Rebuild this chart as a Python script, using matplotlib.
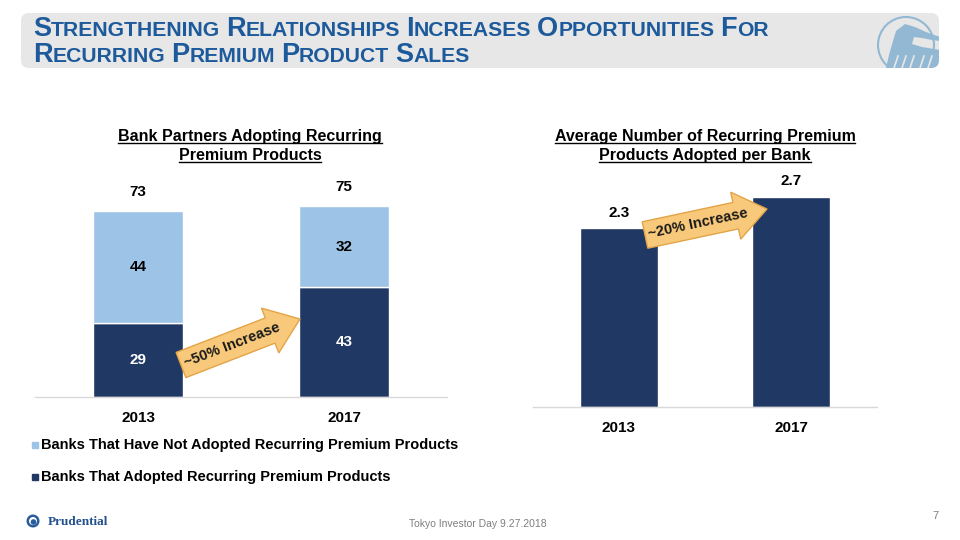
import numpy as np
import matplotlib
matplotlib.use("Agg")
import matplotlib.pyplot as plt
from matplotlib.patches import FancyBboxPatch, FancyArrow, Circle, Polygon, Rectangle

plt.rcParams['font.family'] = ['Liberation Sans', 'DejaVu Sans']

# data
years = ['2013', '2017']
adopted = [29, 43]
not_adopted = [44, 32]
totals = [73, 75]
avg_products = [2.3, 2.7]

left_title = "Bank Partners Adopting Recurring\nPremium Products"
right_title = "Average Number of Recurring Premium\nProducts Adopted per Bank"
legend_labels = ['Banks That Have Not Adopted Recurring Premium Products',
                 'Banks That Adopted Recurring Premium Products']
title_lines = ["Strengthening Relationships Increases Opportunities For",
               "Recurring Premium Product Sales"]

NAVY = '#203864'
LIGHT = '#9DC3E6'
TITLE_BLUE = '#1D5A9B'
GRID = '#D9D9D9'
LOGO = '#92B8D3'

fig = plt.figure(figsize=(9.6, 5.4), dpi=100)

# overlay in pixel coords (y down)
ov = fig.add_axes([0, 0, 1, 1], zorder=10)
ov.set_xlim(0, 960)
ov.set_ylim(540, 0)
ov.set_axis_off()

# left stacked chart
ax1 = fig.add_axes([35 / 960, 1 - 397 / 540, 412 / 960, 227 / 540])
x = np.arange(len(years))
ax1.bar(x, adopted, width=0.437, color=NAVY, edgecolor='white', linewidth=1)
ax1.bar(x, not_adopted, bottom=adopted, width=0.437, color=LIGHT,
        edgecolor='white', linewidth=1)
for i in x:
    ax1.text(i, adopted[i] / 2, str(adopted[i]), ha='center', va='center',
             color='white', fontsize=11, fontweight='bold')
    ax1.text(i, adopted[i] + not_adopted[i] / 2, str(not_adopted[i]),
             ha='center', va='center', color='black', fontsize=11,
             fontweight='bold')
    ax1.text(i, totals[i] + 4.5, str(totals[i]), ha='center', va='bottom',
             color='black', fontsize=11, fontweight='bold')
ax1.set_xlim(-0.5, 1.5)
ax1.set_ylim(0, 89)

# right chart
ax2 = fig.add_axes([533 / 960, 1 - 407 / 540, 344 / 960, 247 / 540])
ax2.bar(x, avg_products, width=0.448, color=NAVY, edgecolor='white', linewidth=1)
for i in x:
    ax2.text(i, avg_products[i] + 0.11, f"{avg_products[i]:.1f}", ha='center',
             va='bottom', color='black', fontsize=11, fontweight='bold')
ax2.set_xlim(-0.5, 1.5)
ax2.set_ylim(0, 3.175)

for ax in (ax1, ax2):
    ax.set_xticks(x)
    ax.set_xticklabels(years, fontsize=11, fontweight='bold')
    ax.tick_params(axis='x', length=0, pad=10)
    ax.set_yticks([])
    for s in ['top', 'right', 'left']:
        ax.spines[s].set_visible(False)
    ax.spines['bottom'].set_color(GRID)
    ax.spines['bottom'].set_linewidth(1)
    ax.patch.set_alpha(0)

fig.canvas.draw()
renderer = fig.canvas.get_renderer()


def px_width(t):
    return t.get_window_extent(renderer).width


def underlined(xc, y, s):
    t = ov.text(xc, y, s, ha='center', va='baseline', fontsize=11.5,
                fontweight='bold', color='black')
    w = px_width(t)
    ov.plot([xc - w / 2, xc + w / 2], [y + 2, y + 2], color='black', lw=1)


for cx, title in [(250, left_title), (705, right_title)]:
    for k, line in enumerate(title.split('\n')):
        underlined(cx, 141 + 19 * k, line)

# legend
for k, (lab, col) in enumerate(zip(legend_labels, [LIGHT, NAVY])):
    yy = 445 + 32 * k
    ov.add_patch(Rectangle((32, yy - 3), 6, 6, color=col))
    ov.text(41, yy, lab, ha='left', va='center', fontsize=10.5,
            fontweight='bold', color='black')

# arrows
ARROW_FACE = '#F8C97A'
ARROW_EDGE = '#E3A447'
for (x0, y0, x1, y1, txt, rot) in [(181, 365, 300, 319, '~50% Increase', 21),
                                   (645, 235, 767, 209, '~20% Increase', 12)]:
    ov.add_patch(FancyArrow(x0, y0, x1 - x0, y1 - y0, width=27,
                            head_width=48, head_length=32,
                            length_includes_head=True, facecolor=ARROW_FACE,
                            edgecolor=ARROW_EDGE, lw=1))
    mx = x0 + (x1 - x0) * 0.43
    my = y0 + (y1 - y0) * 0.43
    ov.text(mx, my, txt, ha='center', va='center', rotation=rot,
            rotation_mode='anchor', fontsize=10.5, fontweight='bold',
            color='#1a1a1a')

# title banner
ov.add_patch(FancyBboxPatch((23, 15), 914, 51,
                            boxstyle='round,pad=2,rounding_size=8',
                            facecolor='#E7E7E7', edgecolor='none', zorder=0))

# logo in banner
logo_clip = FancyBboxPatch((23, 15), 914, 51,
                           boxstyle='round,pad=2,rounding_size=8',
                           facecolor='none', edgecolor='none',
                           transform=ov.transData)
circ = Circle((906, 45), 28, facecolor='none', edgecolor=LOGO, lw=1.5)
ov.add_patch(circ)
circ.set_clip_path(logo_clip)
rock = Polygon([[886, 68], [889, 55], [893, 41], [896, 31], [905, 24],
                [915, 27], [926, 32], [940, 37], [940, 41], [932, 40],
                [922, 38], [914, 37], [912, 44], [922, 47], [940, 50],
                [940, 68]],
               closed=True, facecolor=LOGO, edgecolor='none')
ov.add_patch(rock)
rock.set_clip_path(logo_clip)
for sx in [898, 906, 914, 924, 932]:
    ln, = ov.plot([sx, sx - 4], [56, 68], color='#E7E7E7', lw=1.2)
    ln.set_clip_path(logo_clip)

# small caps title
for k, line in enumerate(title_lines):
    xpos = 33
    ybase = 36 + 26.5 * k
    for word in line.split(' '):
        t = ov.text(xpos, ybase, word[0].upper(), ha='left', va='baseline',
                    fontsize=19.5, fontweight='bold', color=TITLE_BLUE)
        xpos += px_width(t)
        t = ov.text(xpos, ybase, word[1:].upper(), ha='left', va='baseline',
                    fontsize=15.2, fontweight='bold', color=TITLE_BLUE)
        xpos += px_width(t) + 6

# footer
ov.add_patch(Circle((33, 521), 6.5, facecolor='#2A5B9C', edgecolor='none'))
ov.add_patch(Circle((33, 521), 4, facecolor='white', edgecolor='none'))
ov.add_patch(Circle((33.5, 522), 2.8, facecolor='#2A5B9C', edgecolor='none'))
ov.text(48, 522, 'Prudential', ha='left', va='center', fontsize=9.5,
        fontweight='bold', color='#24508F',
        family=['Liberation Serif', 'DejaVu Serif'])
ov.text(478, 524, 'Tokyo Investor Day 9.27.2018', ha='center', va='center',
        fontsize=7.5, color='#7F7F7F')
ov.text(935, 516, '7', ha='center', va='center', fontsize=8, color='#7F7F7F')

fig.savefig('out.png', dpi=100)
